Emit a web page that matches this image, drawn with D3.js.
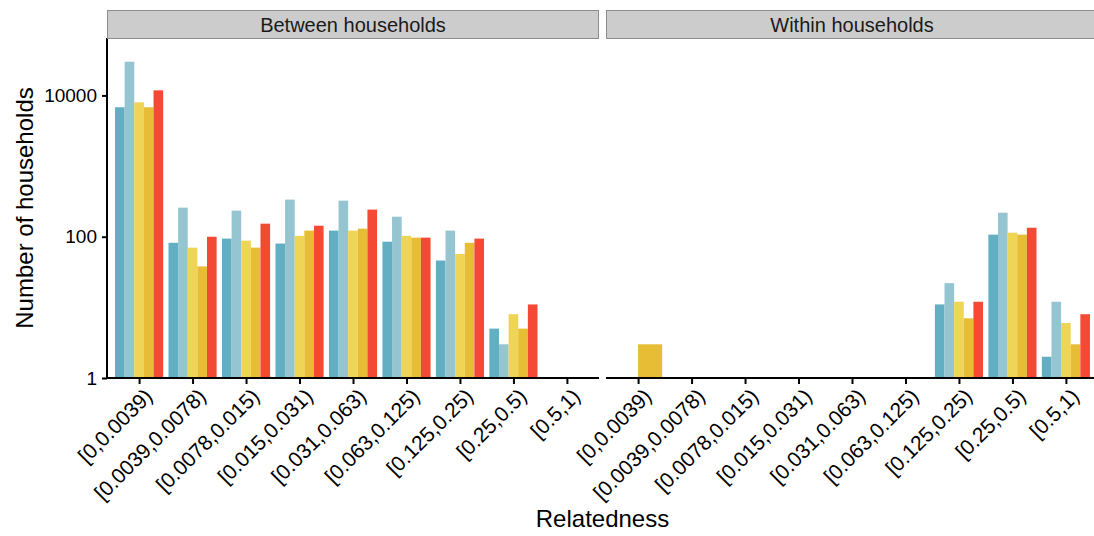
<!DOCTYPE html>
<html>
<head>
<meta charset="utf-8">
<script src="https://cdn.jsdelivr.net/npm/d3@7"></script>
<style>
  html, body { margin: 0; padding: 0; background: #fff; }
  svg { display: block; font-family: "Liberation Sans", Arial, Helvetica, sans-serif; }
</style>
</head>
<body>
<svg id="chart" width="1094" height="536"></svg>
<script>
// Relatedness bins shown on the x axis of both panels
const categories = ["[0,0.0039)", "[0.0039,0.0078)", "[0.0078,0.015)", "[0.015,0.031)",
  "[0.031,0.063)", "[0.063,0.125)", "[0.125,0.25)", "[0.25,0.5)", "[0.5,1)"];

const panels = ["Between households", "Within households"];
const seriesKeys = ["A", "B", "C", "D", "E"];
const seriesColors = ["#62aec2", "#94c5d1", "#eed555", "#e6bd35", "#f44a35"];

// Number of households per bin (null = no bar)
const betweenA = [6800, 82, 94, 80, 122, 85, 46, 5, null];
const betweenB = [30000, 258, 234, 335, 324, 192, 122, 3, null];
const betweenC = [8000, 70, 88, 103, 122, 103, 57, 8, null];
const betweenD = [6800, 38, 70, 122, 130, 97, 82, 5, null];
const betweenE = [11800, 100, 153, 143, 242, 97, 94, 11, null];

const withinA = [null, null, null, null, null, null, 11, 107, 2];
const withinB = [null, null, null, null, null, null, 22, 219, 12];
const withinC = [1, null, null, null, null, null, 12, 114, 6];
const withinD = [3, null, null, null, null, null, 7, 107, 3];
const withinE = [null, null, null, null, null, null, 12, 134, 8];

const yTicks = [1, 100, 10000];
const yLimits = [1, 65000];

const panelData = [
  [betweenA, betweenB, betweenC, betweenD, betweenE],
  [withinA, withinB, withinC, withinD, withinE]
];

const svg = d3.select("#chart");
const plotTop = 38, plotBottom = 378;
const panelX = [107, 606];
const panelW = 492;

const y = d3.scaleLog().domain(yLimits).range([plotBottom, plotTop]);

// y axis (left panel only)
const yAxis = svg.append("g").attr("transform", `translate(${panelX[0]},0)`)
  .call(d3.axisLeft(y).tickValues(yTicks).tickFormat(d3.format("d")).tickSize(5).tickPadding(5));
yAxis.select(".domain").attr("stroke", "#000").attr("stroke-width", 2)
  .attr("d", `M0,${plotTop}V${plotBottom}`);
yAxis.selectAll(".tick line").attr("stroke", "#000").attr("stroke-width", 2);
yAxis.selectAll(".tick text").attr("fill", "#000").style("font-size", "19px");

panels.forEach((name, p) => {
  const x0 = panelX[p];
  const x = d3.scalePoint().domain(categories).range([x0, x0 + panelW]).padding(0.6);
  const step = x.step();
  const g = svg.append("g");

  // bars, dodged among the series present in each bin
  const cols = panelData[p];
  categories.forEach((cat, ci) => {
    const present = seriesKeys.map((k, si) => ({ si, v: cols[si][ci] })).filter(d => d.v != null);
    const n = present.length;
    if (!n) return;
    const w = 0.9 * step / n;
    present.forEach((d, i) => {
      const bx = x(cat) - 0.45 * step + i * w;
      g.append("rect")
        .attr("x", bx).attr("width", w)
        .attr("y", y(d.v)).attr("height", plotBottom - y(d.v))
        .attr("fill", seriesColors[d.si]);
    });
  });

  // x axis
  const xAxis = svg.append("g").attr("transform", `translate(0,${plotBottom})`)
    .call(d3.axisBottom(x).tickSize(6).tickFormat(""));
  xAxis.select(".domain").attr("stroke", "#000").attr("stroke-width", 2)
    .attr("d", `M${x0},0H${x0 + panelW}`);
  xAxis.selectAll(".tick line").attr("stroke", "#000").attr("stroke-width", 2);

  svg.append("g").selectAll("text").data(categories).join("text")
    .attr("transform", d => `translate(${x(d) + 4},${plotBottom + 9}) rotate(-45)`)
    .attr("text-anchor", "end")
    .attr("dy", "0.71em")
    .style("font-size", "21px")
    .attr("fill", "#000")
    .text(d => d);

  // facet strip
  svg.append("rect")
    .attr("x", x0 + 0.5).attr("y", 10.5)
    .attr("width", panelW - 1).attr("height", 28)
    .attr("fill", "#cccccc").attr("stroke", "#8c8c8c").attr("stroke-width", 1);
  svg.append("text")
    .attr("x", x0 + panelW / 2).attr("y", 25)
    .attr("text-anchor", "middle").attr("dy", "0.35em")
    .style("font-size", "20px").attr("fill", "#1a1a1a")
    .text(name);
});

// axis titles
svg.append("text")
  .attr("transform", `translate(33,${(plotTop + plotBottom) / 2}) rotate(-90)`)
  .attr("text-anchor", "middle")
  .style("font-size", "24px").attr("fill", "#000")
  .text("Number of households");

svg.append("text")
  .attr("x", (panelX[0] + panelX[1] + panelW) / 2).attr("y", 527)
  .attr("text-anchor", "middle")
  .style("font-size", "24px").attr("fill", "#000")
  .text("Relatedness");
</script>
</body>
</html>
